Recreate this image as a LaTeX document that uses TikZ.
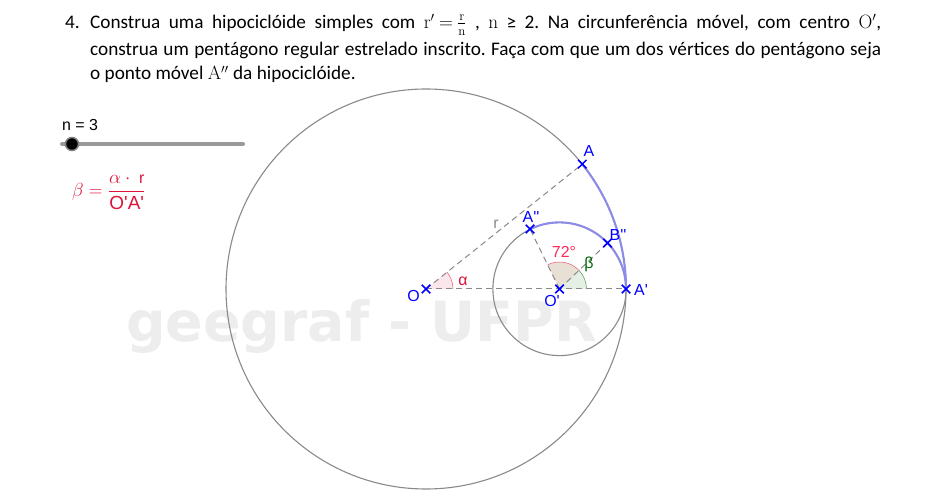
\documentclass[tikz,border=0pt]{standalone}
\usepackage{fix-cm}
\usepackage[no-math]{fontspec}
\setmainfont{Carlito}
\newfontfamily\lab{Liberation Sans}
\newfontfamily\wm{DejaVu Sans}
\usetikzlibrary{shapes.misc}
\DeclareMathSizes{19.3}{19.3}{13}{10}
\DeclareMathSizes{19}{19}{13}{10}
\definecolor{geoblue}{RGB}{0,0,255}
\definecolor{arcblue}{RGB}{140,140,230}
\definecolor{geogray}{RGB}{138,138,138}
\definecolor{crim}{RGB}{220,20,60}
\definecolor{hotred}{RGB}{255,40,90}
\definecolor{geogreen}{RGB}{0,100,0}
\tikzset{
 x=1bp,y=-1bp,
 txt/.style={anchor=base west,inner sep=0,text=black,font=\fontsize{19.3}{24}\selectfont\frenchspacing},
 geocircle/.style={draw=geogray,line width=1.1bp},
 dline/.style={draw=geogray,line width=1bp,dash pattern=on 6bp off 4bp},
 trace/.style={draw=arcblue,line width=2.1bp},
 ptmark/.style={cross out,draw=geoblue,line width=1.5bp,minimum size=8.5bp,inner sep=0,outer sep=0},
 ptlabel/.style={inner sep=0,text=geoblue,font=\lab\fontsize{16}{18}\selectfont},
 anglabel/.style={inner sep=0,font=\lab\fontsize{16}{18}\selectfont},
}
\begin{document}
\begin{tikzpicture}
\useasboundingbox[fill=white] (0,0) rectangle (950,500);
% watermark
\node[anchor=base west,inner sep=0,text=black!7,font=\wm\bfseries\fontsize{55.6}{60}\selectfont] (wm) at (126,342) {geegraf - UFPR};
% statement
\node[txt,anchor=base east] (num) at (80,28.5) {4.};
\node[txt] (l1) at (90,28.5) {\thickmuskip=4mu\hbox to 791bp{Construa uma hipociclóide simples com $\mathrm{r}'=\frac{\mathrm{r}}{\mathrm{n}}$ , $\mathrm{n}$ ≥ 2. Na circunferência móvel, com centro $\mathrm{O}'$,}};
\node[txt] (l2) at (90,55.5) {\hbox to 791bp{construa um pentágono regular estrelado inscrito. Faça com que um dos vértices do pentágono seja}};
\node[txt] (l3) at (90,80) {o ponto móvel $\mathrm{A}''$ da hipociclóide.};
% points
\coordinate (O) at (426,289);
\coordinate (Op) at (559.5,289);
\coordinate (Ap) at (626,289);
\coordinate (A) at (582.3,164.1);
\coordinate (App) at (530,229);
\coordinate (Bpp) at (607.5,243);
% sectors
\fill[crim,fill opacity=.1] (O) -- +(27,0) arc[start angle=0,end angle=-38.6,radius=27] -- cycle;
\draw[crim!70,line width=.5bp] (O) +(27,0) arc[start angle=0,end angle=-38.6,radius=27];
\fill[geogreen,fill opacity=.1] (Op) -- +(27,0) arc[start angle=0,end angle=-43.7,radius=27] -- cycle;
\draw[geogreen!70,line width=.5bp] (Op) +(27,0) arc[start angle=0,end angle=-43.7,radius=27];
\fill[brown!75!black,fill opacity=.2] (Op) -- +(-43.7:27) arc[start angle=-43.7,end angle=-115.7,radius=27] -- cycle;
\draw[crim!70,line width=.5bp] (Op) +(-43.7:27) arc[start angle=-43.7,end angle=-115.7,radius=27];
% circles
\draw[geocircle] (O) circle[radius=200];
\draw[geocircle] (Op) circle[radius=66.6];
% dashed lines
\draw[dline] (O) -- (A);
\draw[dline] (O) -- (Ap);
\draw[dline] (Op) -- (App);
\draw[dline] (Op) -- (Bpp);
% traced arcs
\draw[trace] (Ap) arc[start angle=0,end angle=-38.6,radius=200];
\draw[trace] (Ap) arc[start angle=0,end angle=-115.7,radius=66.6];
% point marks
\node[ptmark] (mO) at (O) {};
\node[ptmark] (mOp) at (Op) {};
\node[ptmark] (mAp) at (Ap) {};
\node[ptmark] (mA) at (A) {};
\node[ptmark] (mApp) at (App) {};
\node[ptmark] (mBpp) at (Bpp) {};
% point labels
\node[ptlabel] (tO) at (413.5,296) {O};
\node[ptlabel] (tOp) at (552,301) {O'};
\node[ptlabel] (tAp) at (641,290.5) {A'};
\node[ptlabel] (tA) at (589,151) {A};
\node[ptlabel] (tApp) at (531,217) {A''};
\node[ptlabel] (tBpp) at (618,235) {B''};
% other labels
\node[anglabel,text=geogray] (tr) at (496,224) {r};
\node[anglabel,text=crim] (talpha) at (463,281) {α};
\node[anglabel,text=geogreen] (tbeta) at (589,264) {β};
\node[anglabel,text=hotred] (t72) at (564,252) {72°};
% slider
\draw[line width=4bp,line cap=round,draw=black!40] (62,144) -- (243,144);
\node[circle,fill=black,draw=black!50,line width=1.5bp,minimum size=13bp,inner sep=0] (knob) at (72,144) {};
\node[anchor=base west,inner sep=0,font=\lab\fontsize{16}{18}\selectfont] (nlab) at (62,131) {n = 3};
% formula
\node[inner sep=0,text=crim,font=\fontsize{19}{20}\selectfont,anchor=west] (form) at (72,192) {$\displaystyle\beta=\frac{\alpha\cdot\mbox{\lab\fontsize{16}{18}\selectfont\ r}}{\mbox{\lab\fontsize{19}{20}\selectfont O'A'}}$};
\end{tikzpicture}
\end{document}
